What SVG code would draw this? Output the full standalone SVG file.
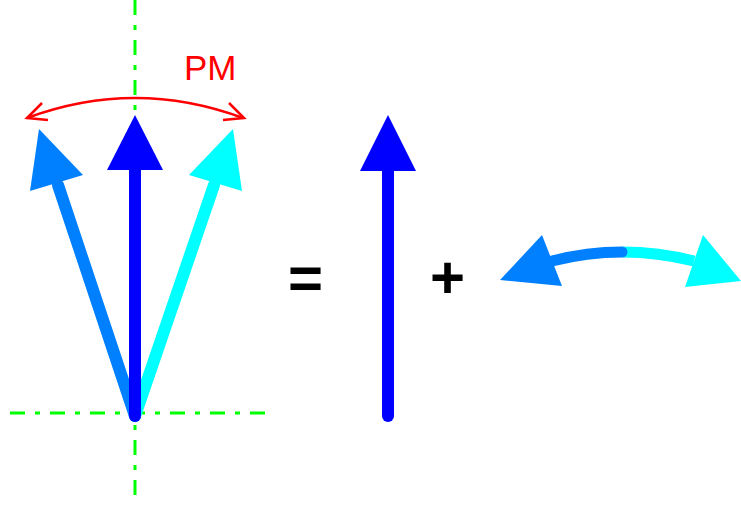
<svg xmlns="http://www.w3.org/2000/svg" width="741" height="507" viewBox="0 0 741 507">
<style>
.axis{stroke:#00FF00;stroke-width:3;fill:none;stroke-dasharray:15 10 5 10}
.shaft{stroke-width:12;fill:none;stroke-linecap:round}
.op{font-family:"Liberation Sans",Arial,sans-serif;font-weight:bold;font-size:60px;fill:#000}
.lbl{font-family:"Liberation Sans",Arial,sans-serif;font-size:35px;fill:#FF0000}
</style>
<rect width="741" height="507" fill="#fff"/>
<g id="axes">
<line class="axis" x1="135" y1="0" x2="135" y2="500"/>
<line class="axis" x1="10" y1="413" x2="267" y2="413"/>
</g>
<g id="connectors">
<g id="arrow-left">
<line class="shaft" stroke="#0080FF" x1="135" y1="416" x2="58" y2="185"/>
<polygon fill="#0080FF" points="39,129 30,191 83,175"/>
</g>
<g id="arrow-right">
<line class="shaft" stroke="#00FFFF" x1="135" y1="416" x2="214" y2="185"/>
<polygon fill="#00FFFF" points="233,129 189,175 242,191"/>
</g>
<g id="arrow-center">
<line class="shaft" stroke="#0000FF" x1="135" y1="416" x2="135" y2="168"/>
<polygon fill="#0000FF" points="135,115 107,170 163,170"/>
</g>
<g id="pm-arc">
<path d="M 27 118 Q 135 78 243 118" fill="none" stroke="#FF0000" stroke-width="2.5"/>
<polyline points="42,103 27,118 48,120" fill="none" stroke="#FF0000" stroke-width="2.5"/>
<polyline points="229,103 244,118 223,120" fill="none" stroke="#FF0000" stroke-width="2.5"/>
</g>
</g>
<g id="label-pm"><text class="lbl" x="184" y="80">PM</text></g>
<g id="equals"><text class="op" x="288" y="298">=</text></g>
<g id="carrier">
<line class="shaft" stroke="#0000FF" x1="388" y1="416" x2="388" y2="168"/>
<polygon fill="#0000FF" points="388,115 360,171 416,171"/>
</g>
<g id="plus"><text class="op" x="430" y="298">+</text></g>
<g id="sidebands">
<path d="M 622 252 Q 658 252 694 261" fill="none" stroke="#00FFFF" stroke-width="11"/>
<polygon fill="#00FFFF" points="741,281 703,235 685,287"/>
<path d="M 552 261 Q 587 252 622 252" fill="none" stroke="#0080FF" stroke-width="11" stroke-linecap="round"/>
<polygon fill="#0080FF" points="500,280 542,235 562,286"/>
</g>
</svg>
